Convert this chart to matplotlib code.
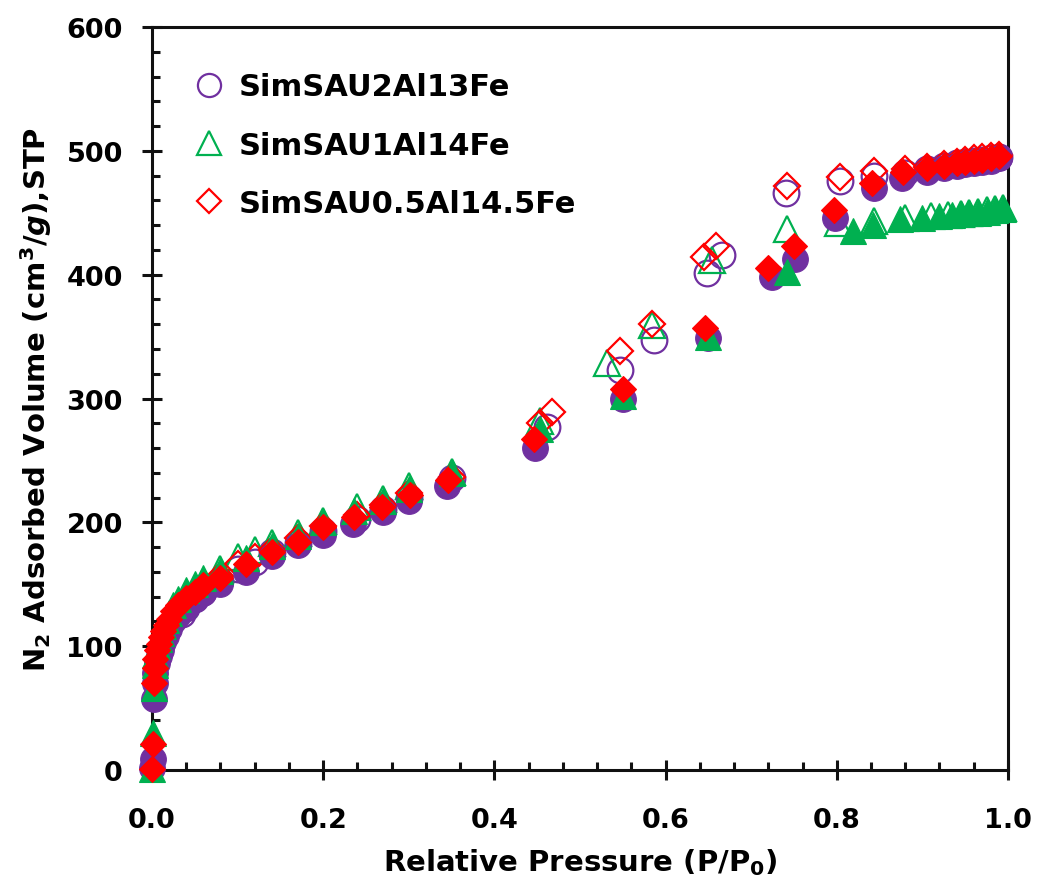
import matplotlib
matplotlib.use("Agg")
import matplotlib.pyplot as plt
from matplotlib.ticker import MultipleLocator

# N2 isotherms, adsorption (filled) and desorption (open) branches

# SimSAU2Al13Fe
p_ads_1 = [0.0005, 0.001, 0.002, 0.003, 0.004, 0.006, 0.008, 0.010, 0.013, 0.016,
           0.02, 0.025, 0.03, 0.04, 0.05, 0.06, 0.08, 0.11, 0.14, 0.17,
           0.20, 0.235, 0.27, 0.30, 0.345, 0.447, 0.55, 0.65, 0.724, 0.751,
           0.798, 0.843, 0.876, 0.905, 0.925, 0.94, 0.95, 0.96, 0.97, 0.98, 0.99]
v_ads_1 = [2, 9, 57, 70, 78, 86, 92, 97, 103, 108,
           114, 120, 125, 132, 138, 143, 150, 160, 173, 182,
           190, 199, 208, 217, 229, 260, 300, 349, 398, 413,
           446, 470, 478, 483, 486, 488, 489, 490, 491, 492, 494]
p_des_1 = [0.99, 0.98, 0.97, 0.96, 0.95, 0.94, 0.925, 0.905, 0.88, 0.843,
           0.804, 0.741, 0.666, 0.648, 0.587, 0.547, 0.461, 0.35, 0.30, 0.27,
           0.24, 0.20, 0.17, 0.14, 0.12, 0.10, 0.08, 0.06, 0.05, 0.04, 0.035]
v_des_1 = [495, 494, 493, 492, 491, 490, 488, 485, 482, 480,
           476, 466, 416, 401, 347, 323, 277, 236, 220, 211,
           203, 193, 183, 176, 168, 162, 153, 144, 138, 131, 126]

# SimSAU1Al14Fe
p_ads_2 = [0.0005, 0.001, 0.002, 0.003, 0.004, 0.006, 0.008, 0.010, 0.013, 0.016,
           0.02, 0.025, 0.03, 0.04, 0.05, 0.06, 0.08, 0.11, 0.14, 0.17,
           0.20, 0.236, 0.27, 0.30, 0.35, 0.453, 0.55, 0.65, 0.742, 0.819,
           0.842, 0.874, 0.90, 0.92, 0.935, 0.945, 0.955, 0.965, 0.975, 0.985, 0.994]
v_ads_2 = [1, 30, 66, 85, 93, 100, 106, 111, 116, 121,
           127, 133, 138, 145, 150, 155, 161, 171, 181, 189,
           200, 209, 217, 227, 240, 275, 302, 350, 402, 435,
           440, 445, 446, 447, 448, 449, 450, 450, 451, 452, 453]
p_des_2 = [0.994, 0.985, 0.975, 0.965, 0.955, 0.945, 0.93, 0.91, 0.88, 0.843,
           0.801, 0.742, 0.654, 0.584, 0.532, 0.453, 0.35, 0.30, 0.27, 0.24,
           0.20, 0.17, 0.14, 0.12, 0.10, 0.08, 0.06, 0.05, 0.04, 0.035]
v_des_2 = [454, 453, 452, 451, 450, 449, 448, 447, 446, 443,
           442, 437, 412, 359, 329, 282, 241, 229, 219, 212,
           201, 191, 183, 178, 172, 162, 152, 146, 140, 135]

# SimSAU0.5Al14.5Fe
p_ads_3 = [0.0005, 0.001, 0.002, 0.003, 0.004, 0.006, 0.008, 0.010, 0.013, 0.016,
           0.02, 0.025, 0.03, 0.04, 0.05, 0.06, 0.08, 0.11, 0.14, 0.17,
           0.20, 0.236, 0.269, 0.301, 0.346, 0.446, 0.55, 0.646, 0.72, 0.75,
           0.797, 0.841, 0.877, 0.905, 0.925, 0.94, 0.95, 0.96, 0.97, 0.98, 0.99]
v_ads_3 = [1, 21, 70, 82, 90, 97, 102, 107, 112, 117,
           122, 128, 133, 139, 144, 149, 155, 166, 176, 184,
           196, 204, 212, 222, 234, 267, 308, 357, 405, 423,
           452, 474, 483, 486, 488, 490, 491, 492, 493, 494, 496]
p_des_3 = [0.99, 0.98, 0.97, 0.96, 0.95, 0.94, 0.925, 0.905, 0.88, 0.843,
           0.804, 0.742, 0.659, 0.645, 0.584, 0.547, 0.467, 0.453, 0.35, 0.30,
           0.27, 0.24, 0.20, 0.17, 0.14, 0.12, 0.10, 0.08, 0.06, 0.05, 0.04, 0.035]
v_des_3 = [497, 496, 495, 494, 493, 491, 489, 487, 485, 484,
           479, 472, 423, 414, 360, 338, 289, 280, 237, 224,
           214, 206, 197, 187, 178, 172, 166, 157, 148, 142, 136, 132]

labels = ["SimSAU2Al13Fe", "SimSAU1Al14Fe", "SimSAU0.5Al14.5Fe"]
colors = ["#7030A0", "#00B050", "#FF0000"]
markers = ["o", "^", "D"]
sizes = [18.5, 18.5, 13.5]

plt.rcParams["font.family"] = "DejaVu Sans"
plt.rcParams["font.weight"] = "bold"
plt.rcParams["mathtext.fontset"] = "custom"
plt.rcParams["mathtext.rm"] = "DejaVu Sans:bold"
plt.rcParams["mathtext.it"] = "DejaVu Sans:bold:italic"
plt.rcParams["mathtext.bf"] = "DejaVu Sans:bold"

fig = plt.figure(figsize=(10.37, 8.87), dpi=100)
ax = fig.add_axes([0.1466, 0.1308, 0.8254, 0.8376])

ads = [(p_ads_1, v_ads_1), (p_ads_2, v_ads_2), (p_ads_3, v_ads_3)]
des = [(p_des_1, v_des_1), (p_des_2, v_des_2), (p_des_3, v_des_3)]

# open desorption markers first, filled adsorption on top
for i in range(3):
    ax.plot(des[i][0], des[i][1], linestyle="none", marker=markers[i],
            markersize=sizes[i], markerfacecolor="none", markeredgecolor=colors[i],
            markeredgewidth=1.6, label=labels[i], zorder=2, clip_on=False)
for i in range(3):
    ax.plot(ads[i][0], ads[i][1], linestyle="none", marker=markers[i],
            markersize=sizes[i], color=colors[i], markeredgewidth=0.8,
            zorder=3, clip_on=False)

ax.set_xlim(0, 1.0)
ax.set_ylim(0, 600)
ax.xaxis.set_major_locator(MultipleLocator(0.2))
ax.xaxis.set_minor_locator(MultipleLocator(0.04))
ax.yaxis.set_major_locator(MultipleLocator(100))
ax.yaxis.set_minor_locator(MultipleLocator(20))
ax.xaxis.set_major_formatter(plt.FormatStrFormatter("%.1f"))

for s in ax.spines.values():
    s.set_linewidth(2.2)
    s.set_color("#111111")
    s.set_zorder(1)
ax.tick_params(which="major", direction="inout", length=14, width=2.2,
               labelsize=19.5, color="#111111")
ax.tick_params(axis="x", which="major", pad=20)
ax.tick_params(axis="y", which="major", pad=14)
ax.tick_params(which="minor", direction="in", length=6, width=2.2, color="#111111")

ax.set_xlabel("Relative Pressure (P/P$_0$)", fontsize=21, fontweight="bold", labelpad=9)
ax.set_ylabel("N$_2$ Adsorbed Volume (cm$^3$/$g$),STP", fontsize=21,
              fontweight="bold", labelpad=9)

leg = ax.legend(loc="upper left", frameon=False, fontsize=22, markerscale=0.9,
                handletextpad=0.45, labelspacing=0.96, borderaxespad=0.0,
                borderpad=0.4, handlelength=1.0, bbox_to_anchor=(0.035, 0.9555))

fig.savefig("out.png", dpi=100)
